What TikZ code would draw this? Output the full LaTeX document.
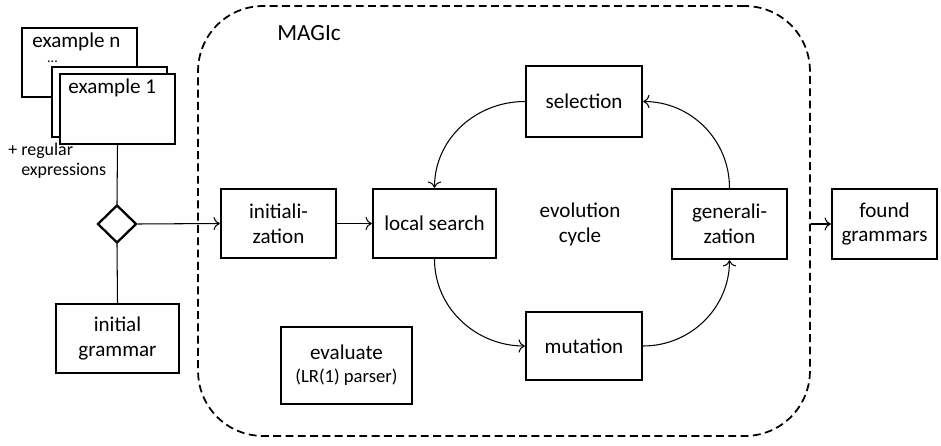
\documentclass[tikz,border=0pt]{standalone}
\usepackage{fontspec}
\setmainfont{Carlito}
\usepackage{tikz}
\usetikzlibrary{arrows,arrows.meta,shapes}
\usetikzlibrary{positioning}
\tikzset{
	>={To[length=3.6pt, width=7.5pt]},
	stage/.style={draw=black, line width=1.3pt, fill=white, align=center, inner sep=1pt, minimum height=1.38cm},
	flow/.style={draw=black, line width=0.6pt, ->},
	link/.style={draw=black, line width=0.6pt},
	fence/.style={draw=black, line width=1pt, dash pattern=on 4.5pt off 2.5pt, rounded corners=1.3cm},
}

\begin{document}
\begin{tikzpicture}[x=0.02cm, y=0.02cm, font=\fontsize{12}{14.2}\selectfont]
		\useasboundingbox (0,0) rectangle (941,-446);
		% the MAGIc frame
		\node[fence, minimum width=12.24cm, minimum height=8.6cm] (magic) at (504,-221) {};
		\node[font=\fontsize{13.2}{15}\selectfont] (magictitle) at (309,-33) {MAGIc};
		% input examples
		\node[stage, minimum width=2.3cm] (exn) at (79.5,-62.5) {};
		\node[stage, minimum width=2.3cm, minimum height=1.4cm] (exmid) at (109.5,-102) {};
		\node[stage, minimum width=2.3cm, minimum height=1.4cm] (exone) at (117.5,-109) {};
		\node[anchor=base west, inner sep=0] (exntext) at (32,-48) {example n};
		\node[anchor=base, inner sep=0, text height=1.5pt, font=\fontsize{8}{9}\selectfont] (exdots) at (52.5,-63) {...};
		\node[anchor=base west, inner sep=0] (exonetext) at (68,-94) {example 1};
		\node[anchor=base west, align=left, inner sep=0, font=\fontsize{10.2}{11.3}\selectfont] (regex) at (8,-175) {+ regular\\\phantom{+ }expressions};
		\node[draw, diamond, line width=1.3pt, aspect=1, inner sep=0, minimum width=0.78cm, minimum height=0.76cm] (join) at (117,-224) {};
		\node[stage, minimum width=2.46cm] (grammar) at (117.5,-338.5) {initial\\grammar};
		% inside MAGIc
		\node[stage, minimum width=2.3cm] (init) at (278.5,-223.5) {initiali-\\zation};
		\node[stage, minimum width=2.46cm] (local) at (434.5,-223.5) {local search};
		\node[stage, minimum width=2.32cm, minimum height=1.42cm] (select) at (584,-101.5) {selection};
		\node[stage, minimum width=2.3cm, minimum height=1.4cm] (general) at (729.5,-224) {generali-\\zation};
		\node[stage, minimum width=2.32cm, minimum height=1.36cm] (mutate) at (584,-346) {mutation};
		\node[align=center] (cycle) at (580,-224) {evolution\\cycle};
		\node[stage, minimum width=2.62cm, minimum height=1.54cm] (evaluate) at (346.5,-365.5) {evaluate\\[-1pt]{\fontsize{10.6}{12}\selectfont(LR(1) parser)}};
		% output
		\node[stage, minimum width=2.1cm, minimum height=1.4cm] (found) at (884.5,-224) {found\\grammars};
		% connectors
		\draw[link] (exone.south) -- (join.north);
		\draw[link] (join.south) -- (grammar.north);
		\draw[flow] (join.east) -- (init.west);
		\draw[flow] (init) -- (local);
		\draw[flow] (select.west) to[out=180, in=90] (local.north);
		\draw[flow] (local.south) to[out=-90, in=180] (mutate.west);
		\draw[flow] (mutate.east) to[out=0, in=-90] (general.south);
		\draw[flow] (general.north) to[out=90, in=0] (select.east);
		\draw[flow] (magic.east |- found.west) -- (found.west);
\end{tikzpicture}
\end{document}
